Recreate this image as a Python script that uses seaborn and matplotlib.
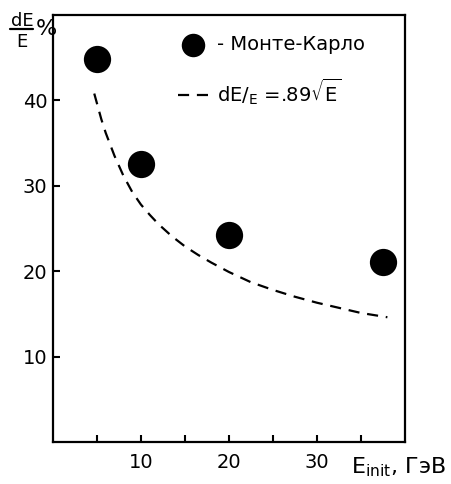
import numpy as np
import pandas as pd
import seaborn as sns
import matplotlib.pyplot as plt

sns.set_style('white')
plt.rcParams['font.family'] = ['DejaVu Sans']
plt.rcParams['mathtext.fontset'] = 'dejavusans'
plt.rcParams['text.color'] = 'black'
plt.rcParams['xtick.color'] = 'black'
plt.rcParams['ytick.color'] = 'black'

# Monte-Carlo points
mc_energy = [5, 10, 20, 37.5]
mc_res = [44.8, 32.6, 24.2, 21.1]

# dashed curve dE/E = .89 sqrt(E)
fit_energy = [4.7, 5.5, 6, 7, 8, 9, 10, 11, 12, 13.5, 15, 16.5, 18, 20, 22.5, 25, 27.5, 30, 32.5, 35, 38]
fit_res = [40.8, 37.8, 36.2, 33.5, 31.2, 29.3, 27.8, 26.6, 25.5, 24.1, 22.9, 21.9, 21.0, 19.9, 18.7, 17.8, 17.0, 16.3, 15.7, 15.1, 14.6]

x_ticks = [5, 10, 15, 20, 25, 30, 35]
x_labels = ['', '10', '', '20', '', '30', '']
y_ticks = [10, 20, 30, 40]

mc = pd.DataFrame({'E': mc_energy, 'res': mc_res})
fit = pd.DataFrame({'E': fit_energy, 'res': fit_res})

fig = plt.figure(figsize=(4.52, 4.84), dpi=100)
ax = fig.add_axes([0.117, 0.087, 0.779, 0.882])

sns.lineplot(x='E', y='res', data=fit, ax=ax, color='black', lw=1.6,
             linestyle=(0, (5, 3.5)), label=r'dE/$_{\mathrm{E}}$ =.89$\sqrt{\mathrm{E}}$')
sns.scatterplot(x='E', y='res', data=mc, ax=ax, color='black', s=330,
                edgecolor='black', label='- Монте-Карло')

ax.set_xlim(0, 40)
ax.set_ylim(0, 50)
ax.set_xticks(x_ticks)
ax.set_xticklabels(x_labels)
ax.set_yticks(y_ticks)
ax.tick_params(direction='in', length=5, width=1.5, labelsize=14, pad=8,
               bottom=True, left=True)
ax.tick_params(axis='y', pad=4)
for s in ax.spines.values():
    s.set_color('black')
    s.set_linewidth(1.6)
ax.set_xlabel('')
ax.set_ylabel('')

handles, labels = ax.get_legend_handles_labels()
ax.legend(handles[::-1], labels[::-1], loc='upper left', bbox_to_anchor=(0.305, 0.993),
          frameon=False, fontsize=14, handlelength=1.6, handletextpad=0.4,
          labelspacing=1.15, markerscale=0.85)

fig.text(0.777, 0.022, r'E$_{\mathrm{init}}$, ГэВ', fontsize=16)
# y label as a fraction dE/E and %
fig.text(0.024, 0.946, 'dE', fontsize=13)
fig.add_artist(plt.Line2D([0.022, 0.074], [0.940, 0.940], color='black', lw=1.6))
fig.text(0.036, 0.903, 'E', fontsize=13)
fig.text(0.079, 0.928, '%', fontsize=16)

fig.savefig('out.png', dpi=100)
